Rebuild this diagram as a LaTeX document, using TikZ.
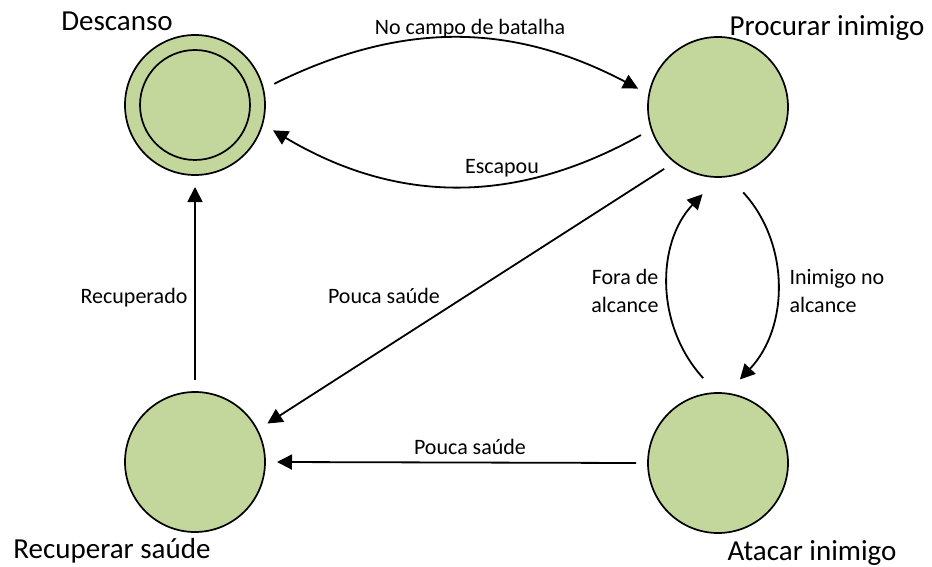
\documentclass[tikz,border=0pt]{standalone}
\usepackage{fontspec}
\setmainfont{Carlito}
\usepackage{xcolor}
\usepackage{tikz}
\usetikzlibrary{arrows.meta}
\definecolor{stateGreen}{HTML}{C3D69B}

\begin{document}
\begin{tikzpicture}[x=1pt, y=1pt,
  state/.style={circle, draw, line width=1.7pt, fill=stateGreen,
    minimum size=140pt, inner sep=0pt, outer sep=12pt},
  trans/.style={line width=1.8pt, -{Triangle[length=15pt,width=15pt]}},
  lbl/.style={font=\fontsize{22}{28}\selectfont},
  title/.style={font=\fontsize{29}{34}\selectfont}]
  \useasboundingbox (0,0) rectangle (932,-567);

  % states
  \node[state] (desc) at (195,-105) {};
  \node[circle, draw, line width=1.7pt, minimum size=110pt, inner sep=0pt] (descin) at (desc.center) {};
  \node[state] (proc) at (718,-107) {};
  \node[state] (rec)  at (195,-462) {};
  \node[state] (atk)  at (718,-463) {};

  % state names
  \node[title, anchor=base] (descname) at (117,-31) {Descanso};
  \node[title, anchor=base] (procname) at (827,-36) {Procurar inimigo};
  \node[title, anchor=base] (recname)  at (112,-558) {Recuperar saúde};
  \node[title, anchor=base] (atkname)  at (812,-560) {Atacar inimigo};

  % transitions
  \draw[trans] (desc.15) to[bend left=27] (proc.167);
  \draw[trans] (proc.200) to[bend left=30] (desc.-18);
  \draw[trans] (proc.229) -- (rec.28);
  \draw[trans, shorten <=8pt, shorten >=5pt] (proc.-76) to[bend left=43] (atk.77);
  \draw[trans, shorten <=5pt, shorten >=8pt] (atk.98) to[bend left=43] (proc.-97);
  \draw[trans] (atk.180) -- (rec.0);
  \draw[trans] (rec.90) -- (desc.270);

  % transition labels
  \node[lbl, anchor=base] (battle) at (470,-35) {No campo de batalha};
  \node[lbl, anchor=base] (escaped) at (502,-174) {Escapou};
  \node[lbl, anchor=base] (lowhpa) at (384,-303) {Pouca saúde};
  \node[lbl, anchor=base] (lowhpb) at (470,-454) {Pouca saúde};
  \node[lbl, anchor=base] (healed) at (134,-303) {Recuperado};
  \node[lbl, anchor=east, align=right] (outrange) at (662,-291) {Fora de\\alcance};
  \node[lbl, anchor=west, align=left] (inrange) at (786,-291) {Inimigo no\\alcance};
\end{tikzpicture}
\end{document}
